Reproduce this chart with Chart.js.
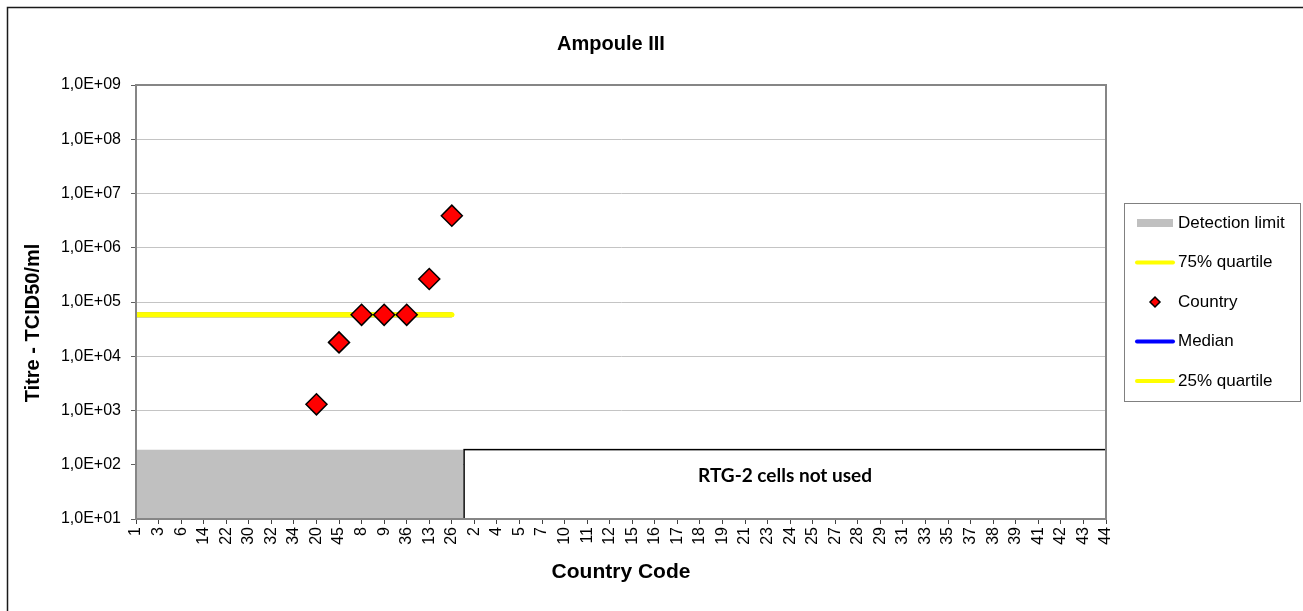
<!DOCTYPE html>
<html>
<head>
<meta charset="utf-8">
<script src="https://cdn.jsdelivr.net/npm/chart.js@4.4.1/dist/chart.umd.min.js"></script>
<style>
  html, body { margin: 0; padding: 0; background: #fff; }
  #wrap { width: 1303px; height: 611px; position: relative; }
</style>
</head>
<body>
<div id="wrap"><canvas id="titreChart"></canvas></div>
<script>
// country codes along the x axis (in plotted order)
const categories = ['1', '3', '6', '14', '22', '30', '32', '34', '20', '45', '8', '9', '36', '13', '26',
  '2', '4', '5', '7', '10', '11', '12', '15', '16', '17', '18', '19', '21', '23', '24', '25', '27',
  '28', '29', '31', '33', '35', '37', '38', '39', '41', '42', '43', '44'];

// countries that reported a titre
const countryCodes = ['20', '45', '8', '9', '36', '13', '26'];
const countryTitres = [1300, 18000, 58000, 58000, 58000, 265000, 3900000];

const quartile75 = 58000;
const medianTitre = 58000;
const quartile25 = 58000;
const detectionLimit = 190;

const yTicks = [1e1, 1e2, 1e3, 1e4, 1e5, 1e6, 1e7, 1e8, 1e9];

const lastTested = categories.indexOf('26');
const limitEnd = lastTested + 0.5;

const countryPoints = countryCodes.map((c, i) => ({ x: categories.indexOf(c), y: countryTitres[i] }));
const span = v => [{ x: 0, y: v }, { x: lastTested, y: v }];

Chart.defaults.font.family = 'Arial, "Liberation Sans", sans-serif';
Chart.defaults.color = '#000';

// frame, titles, text box and legend like the Excel original
const decor = {
  id: 'decor',
  beforeDraw(chart) {
    const ctx = chart.ctx;
    ctx.save();
    ctx.fillStyle = '#fff';
    ctx.fillRect(0, 0, chart.width, chart.height);
    ctx.strokeStyle = '#1a1a1a';
    ctx.lineWidth = 1.5;
    ctx.strokeRect(7.5, 7.5, chart.width + 20, chart.height + 20);
    ctx.restore();
  },
  afterDatasetsDraw(chart) {
    const ctx = chart.ctx;
    const x = chart.scales.x, y = chart.scales.y;
    const a = chart.chartArea;
    ctx.save();
    // "not used" box
    const bx = x.getPixelForValue(limitEnd) + 1;
    const by = y.getPixelForValue(detectionLimit);
    ctx.fillStyle = '#fff';
    ctx.fillRect(bx, by, a.right - bx, a.bottom - by);
    ctx.strokeStyle = '#000';
    ctx.lineWidth = 1.5;
    ctx.strokeRect(bx, by, a.right - bx, a.bottom - by);
    ctx.fillStyle = '#000';
    ctx.font = 'bold 19px Lato, "Open Sans", sans-serif';
    ctx.textAlign = 'center';
    ctx.textBaseline = 'middle';
    ctx.fillText('RTG-2 cells not used', (bx + a.right) / 2, by + 26);

    // plot frame
    ctx.strokeStyle = '#868686';
    ctx.lineWidth = 2;
    ctx.strokeRect(a.left, a.top, a.right - a.left, a.bottom - a.top);
    ctx.restore();
  },
  afterDraw(chart) {
    const ctx = chart.ctx;
    const a = chart.chartArea;
    ctx.save();
    ctx.fillStyle = '#000';
    ctx.textAlign = 'center';
    ctx.textBaseline = 'middle';
    ctx.font = 'bold 20px Arial, "Liberation Sans", sans-serif';
    ctx.fillText('Ampoule III', 611, 44);
    ctx.font = 'bold 21px Arial, "Liberation Sans", sans-serif';
    ctx.fillText('Country Code', (a.left + a.right) / 2, 572);
    ctx.save();
    ctx.translate(33, 323);
    ctx.rotate(-Math.PI / 2);
    ctx.font = 'bold 20px Arial, "Liberation Sans", sans-serif';
    ctx.fillText('Titre - TCID50/ml', 0, 0);
    ctx.restore();

    // legend
    const lx = 1124, ly = 203, lw = 176, lh = 198;
    ctx.strokeStyle = '#808080';
    ctx.lineWidth = 1;
    ctx.strokeRect(lx + 0.5, ly + 0.5, lw, lh);
    const items = [
      { text: 'Detection limit', kind: 'rect', color: '#c0c0c0' },
      { text: '75% quartile', kind: 'line', color: '#ffff00' },
      { text: 'Country', kind: 'diamond', color: '#ff0000' },
      { text: 'Median', kind: 'line', color: '#0000ff' },
      { text: '25% quartile', kind: 'line', color: '#ffff00' }
    ];
    ctx.font = '17px Arial, "Liberation Sans", sans-serif';
    ctx.textAlign = 'left';
    items.forEach((it, i) => {
      const cy = 223 + i * 39.5;
      if (it.kind === 'rect') {
        ctx.fillStyle = it.color;
        ctx.fillRect(1137, cy - 4, 36, 8);
      } else if (it.kind === 'line') {
        ctx.strokeStyle = it.color;
        ctx.lineWidth = 4;
        ctx.lineCap = 'round';
        ctx.beginPath();
        ctx.moveTo(1137, cy);
        ctx.lineTo(1173, cy);
        ctx.stroke();
      } else {
        ctx.fillStyle = it.color;
        ctx.strokeStyle = '#000';
        ctx.lineWidth = 1.5;
        ctx.beginPath();
        ctx.moveTo(1155 - 5, cy);
        ctx.lineTo(1155, cy - 5);
        ctx.lineTo(1155 + 5, cy);
        ctx.lineTo(1155, cy + 5);
        ctx.closePath();
        ctx.fill();
        ctx.stroke();
      }
      ctx.fillStyle = '#000';
      ctx.fillText(it.text, 1178, cy);
    });
    ctx.restore();
  }
};

const config = {
  type: 'scatter',
  data: {
    datasets: [
      {
        label: 'Country',
        data: countryPoints,
        pointStyle: 'rectRot',
        pointRadius: 10.5,
        pointHoverRadius: 10.5,
        backgroundColor: '#ff0000',
        borderColor: '#000',
        borderWidth: 1.5,
        order: 0
      },
      {
        label: '75% quartile',
        type: 'line',
        data: span(quartile75),
        borderColor: '#ffff00',
        borderWidth: 5,
        borderCapStyle: 'round',
        pointRadius: 0,
        order: 1
      },
      {
        label: '25% quartile',
        type: 'line',
        data: span(quartile25),
        borderColor: '#ffff00',
        borderWidth: 5,
        borderCapStyle: 'round',
        pointRadius: 0,
        order: 2
      },
      {
        label: 'Median',
        type: 'line',
        data: span(medianTitre),
        borderColor: '#0000ff',
        borderWidth: 5,
        pointRadius: 0,
        order: 3
      },
      {
        label: 'Detection limit',
        type: 'line',
        data: [{ x: 0, y: detectionLimit }, { x: limitEnd, y: detectionLimit }],
        borderWidth: 0,
        borderColor: 'rgba(0,0,0,0)',
        backgroundColor: '#c0c0c0',
        fill: 'start',
        pointRadius: 0,
        order: 4
      }
    ]
  },
  options: {
    responsive: true,
    maintainAspectRatio: false,
    animation: false,
    layout: { padding: { left: 0, top: 85, right: 197, bottom: 0 } },
    plugins: {
      legend: { display: false },
      title: { display: false },
      tooltip: { enabled: false }
    },
    scales: {
      x: {
        type: 'linear',
        min: 0,
        max: categories.length - 1,
        afterBuildTicks: scale => {
          scale.ticks = categories.map((c, i) => ({ value: i }));
        },
        afterFit: scale => { scale.height = 92; },
        ticks: {
          autoSkip: false,
          minRotation: 90,
          maxRotation: 90,
          padding: 3,
          font: { size: 16 },
          callback: v => categories[v]
        },
        grid: {
          drawOnChartArea: false,
          tickLength: 5,
          tickColor: '#404040'
        },
        border: { color: '#404040', width: 1.5 }
      },
      y: {
        type: 'logarithmic',
        min: yTicks[0],
        max: yTicks[yTicks.length - 1],
        afterBuildTicks: scale => {
          scale.ticks = yTicks.map(v => ({ value: v }));
        },
        afterFit: scale => { scale.width = 136; },
        ticks: {
          padding: 10,
          font: { size: 16 },
          callback: v => '1,0E+' + String(Math.round(Math.log10(v))).padStart(2, '0')
        },
        grid: {
          color: '#c4c4c4',
          lineWidth: 1,
          tickLength: 5,
          tickColor: '#606060'
        },
        border: { color: '#868686', width: 2 }
      }
    }
  },
  plugins: [decor]
};

const ctx = document.getElementById('titreChart').getContext('2d');
new Chart(ctx, config);
</script>
</body>
</html>
